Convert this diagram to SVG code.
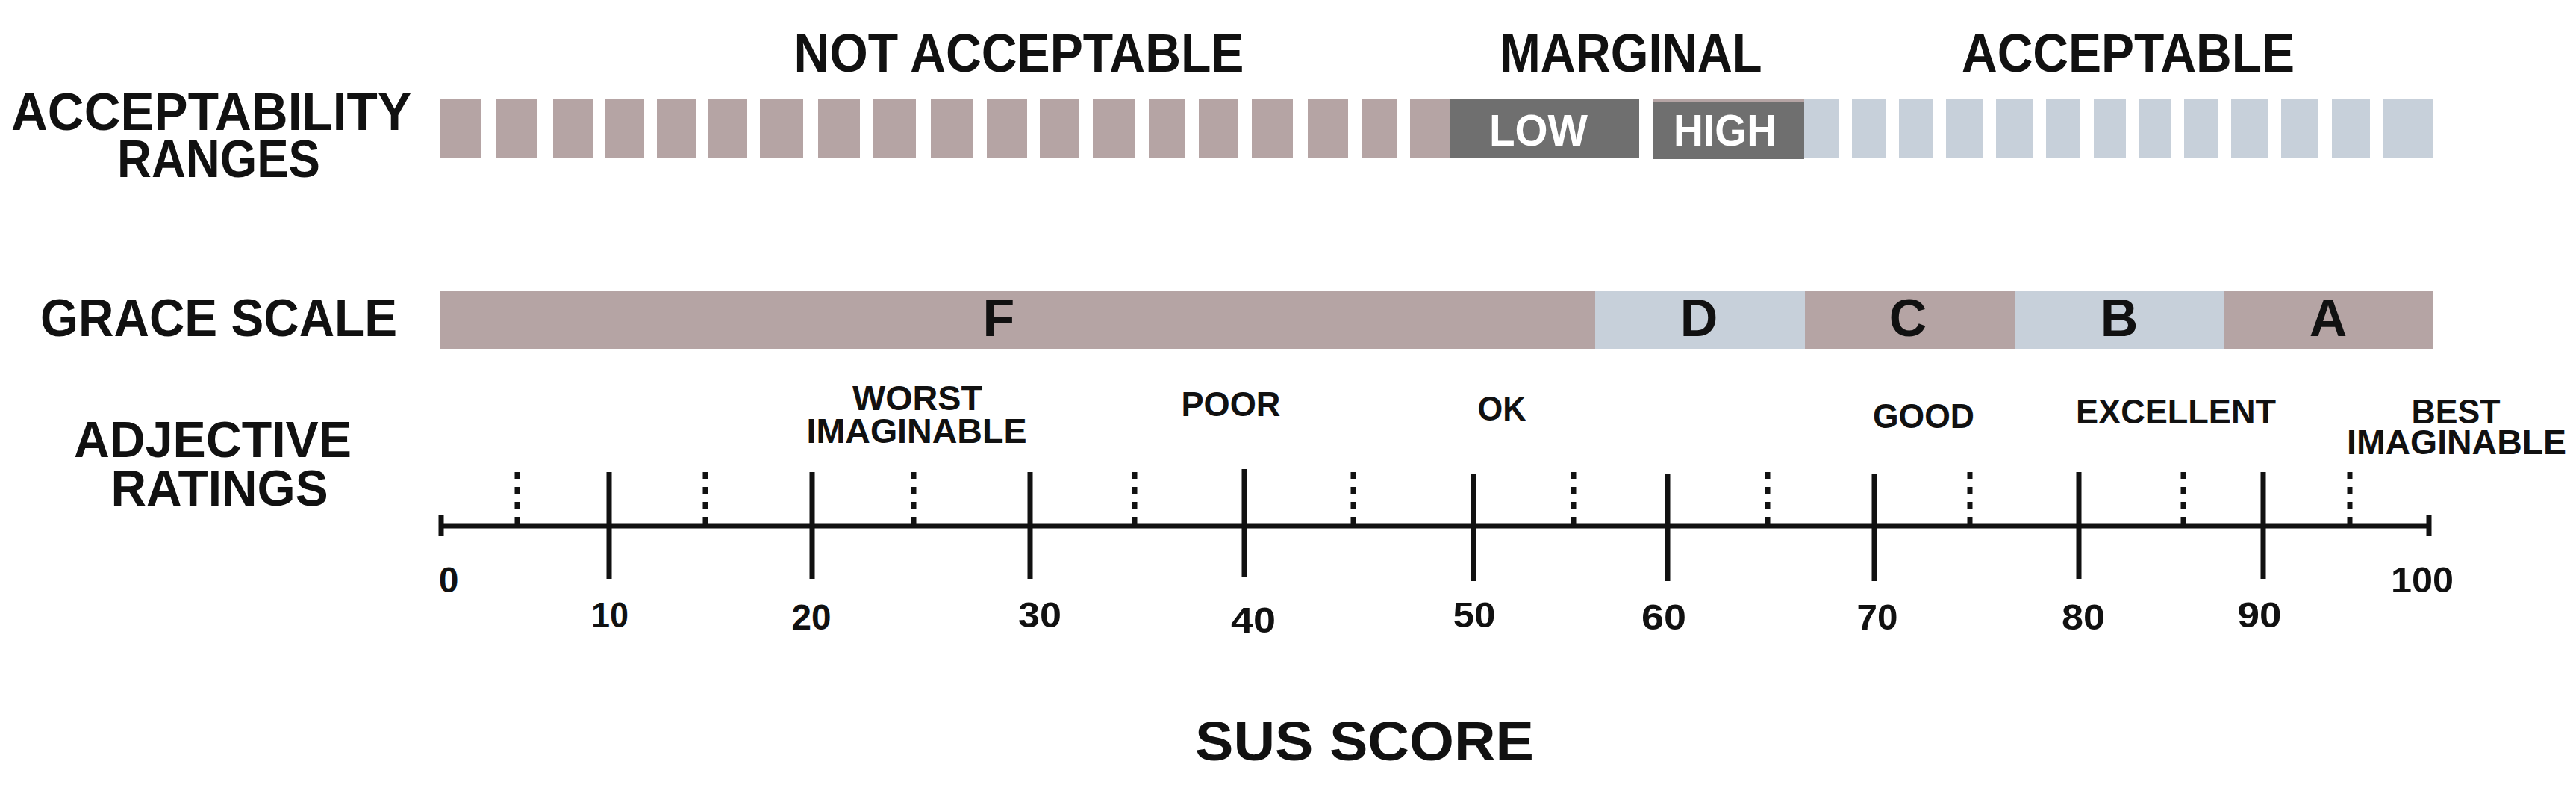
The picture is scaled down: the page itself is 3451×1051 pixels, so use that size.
<svg xmlns="http://www.w3.org/2000/svg" width="3451" height="1051" viewBox="0 0 3451 1051">
<style>
.t{font-family:"Liberation Sans",Arial,sans-serif;font-weight:700;fill:#111;text-anchor:middle}
.w{fill:#fff}
.pk{fill:#B5A4A4}
.bl{fill:#C7D0DA}
.dk{fill:#6F6F6F}
.tk{stroke:#111;stroke-width:7;fill:none}
.dt{stroke:#111;stroke-width:7;stroke-dasharray:9 11;fill:none}
</style>
<rect width="3451" height="1051" fill="#fff"/>
<g id="range-titles">
<text class="t" x="1365" y="96" font-size="73" textLength="603" lengthAdjust="spacingAndGlyphs">NOT ACCEPTABLE</text>
<text class="t" x="2185" y="96" font-size="73" textLength="351" lengthAdjust="spacingAndGlyphs">MARGINAL</text>
<text class="t" x="2851" y="96" font-size="73" textLength="446" lengthAdjust="spacingAndGlyphs">ACCEPTABLE</text>
</g>
<g id="row-labels">
<text class="t" x="283" y="174" font-size="70" textLength="536" lengthAdjust="spacingAndGlyphs">ACCEPTABILITY</text>
<text class="t" x="293" y="237" font-size="70" textLength="272" lengthAdjust="spacingAndGlyphs">RANGES</text>
<text class="t" x="293" y="450" font-size="70" textLength="478" lengthAdjust="spacingAndGlyphs">GRACE SCALE</text>
<text class="t" x="285" y="612" font-size="68" textLength="372" lengthAdjust="spacingAndGlyphs">ADJECTIVE</text>
<text class="t" x="294" y="677" font-size="68" textLength="291" lengthAdjust="spacingAndGlyphs">RATINGS</text>
</g>
<g id="acceptability-bar">
<g class="pk">
<rect x="589" y="133" width="55" height="78"/>
<rect x="664" y="133" width="55" height="78"/>
<rect x="741" y="133" width="53" height="78"/>
<rect x="811" y="133" width="52" height="78"/>
<rect x="880" y="133" width="52" height="78"/>
<rect x="949" y="133" width="52" height="78"/>
<rect x="1018" y="133" width="58" height="78"/>
<rect x="1096" y="133" width="56" height="78"/>
<rect x="1169" y="133" width="58" height="78"/>
<rect x="1247" y="133" width="56" height="78"/>
<rect x="1322" y="133" width="54" height="78"/>
<rect x="1393" y="133" width="53" height="78"/>
<rect x="1464" y="133" width="56" height="78"/>
<rect x="1539" y="133" width="49" height="78"/>
<rect x="1606" y="133" width="52" height="78"/>
<rect x="1677" y="133" width="55" height="78"/>
<rect x="1752" y="133" width="54" height="78"/>
<rect x="1825" y="133" width="47" height="78"/>
<rect x="1889" y="133" width="53" height="78"/>
<rect x="2214" y="133" width="203" height="5"/>
</g>
<g id="marginal-low">
<rect class="dk" x="1942" y="133" width="254" height="78"/>
<text class="t w" x="2061" y="195" font-size="60" textLength="132" lengthAdjust="spacingAndGlyphs">LOW</text>
</g>
<g id="marginal-high">
<rect class="dk" x="2214" y="137" width="203" height="76"/>
<text class="t w" x="2311" y="195" font-size="60" textLength="138" lengthAdjust="spacingAndGlyphs">HIGH</text>
</g>
<g class="bl">
<rect x="2417" y="133" width="46" height="78"/>
<rect x="2481" y="133" width="46" height="78"/>
<rect x="2544" y="133" width="45" height="78"/>
<rect x="2607" y="133" width="49" height="78"/>
<rect x="2674" y="133" width="50" height="78"/>
<rect x="2741" y="133" width="46" height="78"/>
<rect x="2805" y="133" width="43" height="78"/>
<rect x="2865" y="133" width="44" height="78"/>
<rect x="2926" y="133" width="45" height="78"/>
<rect x="2989" y="133" width="49" height="78"/>
<rect x="3056" y="133" width="49" height="78"/>
<rect x="3124" y="133" width="51" height="78"/>
<rect x="3193" y="133" width="67" height="78"/>
</g>
</g>
<g id="grade-scale">
<g id="grade-F"><rect class="pk" x="590" y="390" width="1547" height="77"/><text class="t" x="1338" y="450" font-size="70">F</text></g>
<g id="grade-D"><rect class="bl" x="2137" y="390" width="281" height="77"/><text class="t" x="2276" y="450" font-size="70">D</text></g>
<g id="grade-C"><rect class="pk" x="2418" y="390" width="281" height="77"/><text class="t" x="2556" y="450" font-size="70">C</text></g>
<g id="grade-B"><rect class="bl" x="2699" y="390" width="280" height="77"/><text class="t" x="2839" y="450" font-size="70">B</text></g>
<g id="grade-A"><rect class="pk" x="2979" y="390" width="281" height="77"/><text class="t" x="3119" y="450" font-size="70">A</text></g>
</g>
<g id="adjectives">
<text class="t" x="1229" y="549" font-size="47" textLength="174" lengthAdjust="spacingAndGlyphs">WORST</text>
<text class="t" x="1228" y="593" font-size="47" textLength="295" lengthAdjust="spacingAndGlyphs">IMAGINABLE</text>
<text class="t" x="1649" y="557" font-size="47" textLength="133" lengthAdjust="spacingAndGlyphs">POOR</text>
<text class="t" x="2012" y="563" font-size="47" textLength="65" lengthAdjust="spacingAndGlyphs">OK</text>
<text class="t" x="2577" y="573" font-size="47" textLength="136" lengthAdjust="spacingAndGlyphs">GOOD</text>
<text class="t" x="2915" y="567" font-size="47" textLength="268" lengthAdjust="spacingAndGlyphs">EXCELLENT</text>
<text class="t" x="3290" y="567" font-size="47" textLength="119" lengthAdjust="spacingAndGlyphs">BEST</text>
<text class="t" x="3291" y="608" font-size="47" textLength="294" lengthAdjust="spacingAndGlyphs">IMAGINABLE</text>
</g>
<g id="axis">
<line class="tk" x1="590" y1="704" x2="3254" y2="704"/>
<line class="tk" x1="591" y1="689" x2="591" y2="718"/>
<line class="tk" x1="3254" y1="689" x2="3254" y2="718"/>
<line class="tk" x1="816" y1="632" x2="816" y2="775"/>
<line class="tk" x1="1088" y1="632" x2="1088" y2="775"/>
<line class="tk" x1="1380" y1="632" x2="1380" y2="775"/>
<line class="tk" x1="1667" y1="628" x2="1667" y2="772"/>
<line class="tk" x1="1974" y1="635" x2="1974" y2="778"/>
<line class="tk" x1="2234" y1="635" x2="2234" y2="778"/>
<line class="tk" x1="2511" y1="635" x2="2511" y2="778"/>
<line class="tk" x1="2785" y1="632" x2="2785" y2="775"/>
<line class="tk" x1="3032" y1="632" x2="3032" y2="775"/>
<line class="dt" x1="693" y1="632" x2="693" y2="702"/>
<line class="dt" x1="945" y1="632" x2="945" y2="702"/>
<line class="dt" x1="1224" y1="632" x2="1224" y2="702"/>
<line class="dt" x1="1520" y1="632" x2="1520" y2="702"/>
<line class="dt" x1="1813" y1="632" x2="1813" y2="702"/>
<line class="dt" x1="2108" y1="632" x2="2108" y2="702"/>
<line class="dt" x1="2368" y1="632" x2="2368" y2="702"/>
<line class="dt" x1="2639" y1="632" x2="2639" y2="702"/>
<line class="dt" x1="2925" y1="632" x2="2925" y2="702"/>
<line class="dt" x1="3148" y1="632" x2="3148" y2="702"/>
</g>
<g id="axis-numbers">
<text class="t" x="601" y="793" font-size="48">0</text>
<text class="t" x="817" y="840" font-size="48" textLength="50" lengthAdjust="spacingAndGlyphs">10</text>
<text class="t" x="1087" y="843" font-size="48" textLength="53" lengthAdjust="spacingAndGlyphs">20</text>
<text class="t" x="1393" y="840" font-size="48" textLength="58" lengthAdjust="spacingAndGlyphs">30</text>
<text class="t" x="1679" y="847" font-size="48" textLength="60" lengthAdjust="spacingAndGlyphs">40</text>
<text class="t" x="1975" y="840" font-size="48" textLength="57" lengthAdjust="spacingAndGlyphs">50</text>
<text class="t" x="2229" y="843" font-size="48" textLength="60" lengthAdjust="spacingAndGlyphs">60</text>
<text class="t" x="2515" y="843" font-size="48" textLength="55" lengthAdjust="spacingAndGlyphs">70</text>
<text class="t" x="2791" y="843" font-size="48" textLength="58" lengthAdjust="spacingAndGlyphs">80</text>
<text class="t" x="3027" y="840" font-size="48" textLength="59" lengthAdjust="spacingAndGlyphs">90</text>
<text class="t" x="3245" y="793" font-size="48" textLength="84" lengthAdjust="spacingAndGlyphs">100</text>
</g>
<g id="axis-title">
<text class="t" x="1828" y="1018" font-size="75" textLength="454" lengthAdjust="spacingAndGlyphs">SUS SCORE</text>
</g>
</svg>
